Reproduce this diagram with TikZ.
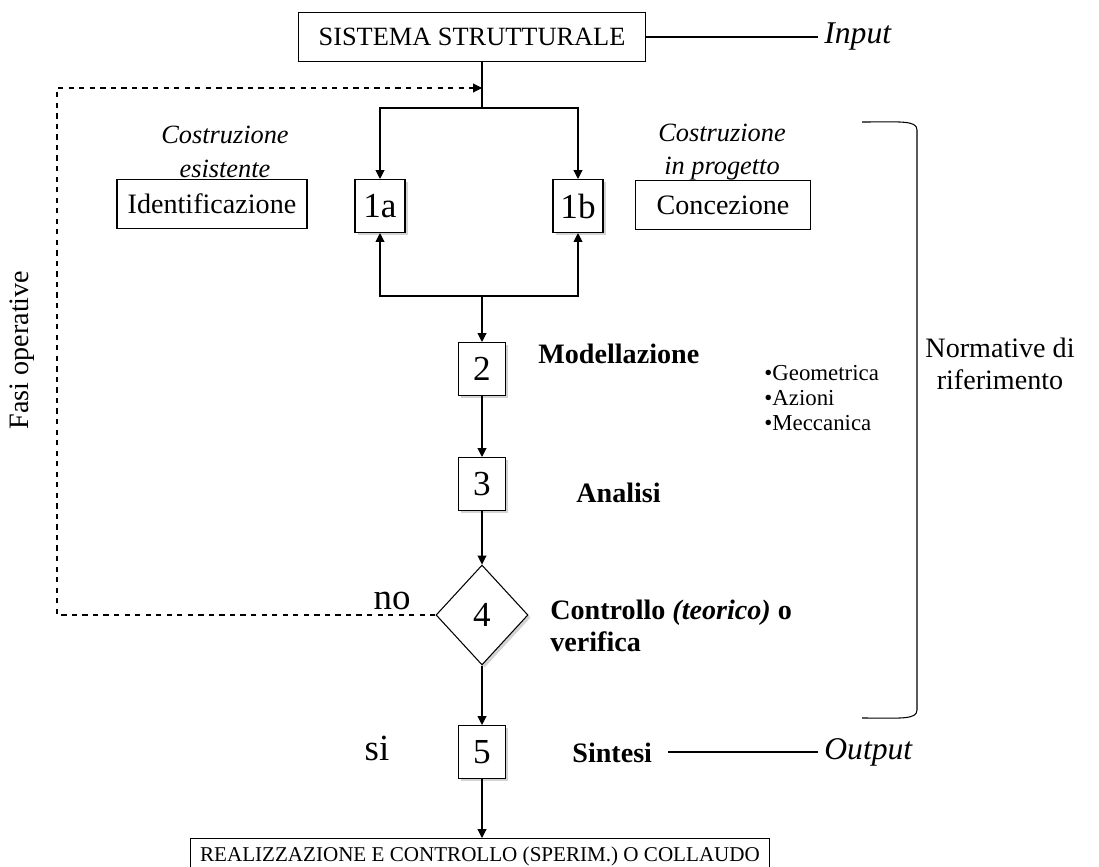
\documentclass[tikz,border=0pt]{standalone}
\usepackage{fontspec}
\setmainfont{Liberation Serif}
\usetikzlibrary{arrows.meta,shapes.geometric,shadows}

\begin{document}
\begin{tikzpicture}[x=0.02cm,y=-0.02cm,line width=0.6pt,
    >={Triangle[length=5pt,width=5pt]},
    every node/.style={font=\fontsize{16}{18}\selectfont},
    box/.style={draw,inner sep=0pt,minimum height=0.98cm},
    numbox/.style={draw,fill=white,inner sep=0pt,minimum width=0.94cm,minimum height=1.06cm,
      font=\fontsize{20}{22}\selectfont,
      drop shadow={opacity=0.35,shadow xshift=1.5pt,shadow yshift=-1.5pt}},
    lab/.style={anchor=west,font=\fontsize{16}{18}\selectfont\bfseries},
    side/.style={anchor=west,font=\fontsize{18}{21}\selectfont\itshape},
    note/.style={align=center,font=\fontsize{15}{19}\selectfont\itshape}]
  \useasboundingbox (0,0) rectangle (1099,866);

  \node[box,minimum width=6.96cm,font=\fontsize{15}{17}\selectfont] (sys) at (472,37) {SISTEMA STRUTTURALE};
  \node[side] (inp) at (818,37) {Input};
  \draw (sys.east) -- (inp.west);

  \node[box,minimum width=3.8cm] (ident) at (212,204) {Identificazione};
  \node[box,minimum width=3.5cm] (conc) at (723,205) {Concezione};
  \node[numbox,minimum width=1.0cm] (n1a) at (380,206) {1a};
  \node[numbox,minimum width=1.0cm] (n1b) at (578,206) {1b};
  \node[note] (esist) at (225,152) {Costruzione\\esistente};
  \node[note] (prog) at (722,152) {Costruzione\\in progetto};

  \coordinate (split) at (482,108);
  \coordinate (join) at (482,296);
  \draw (sys.south -| split) -- (split);
  \draw[->] (split) -| (n1a.north);
  \draw[->] (split) -| (n1b.north);
  \draw[->] (join) -| (n1a.south);
  \draw[->] (join) -| (n1b.south);

  \node[numbox] (n2) at (482,369) {2};
  \node[numbox] (n3) at (482,484) {3};
  \node[draw,fill=white,shape=diamond,inner sep=0pt,minimum width=1.84cm,minimum height=2cm,
    font=\fontsize{20}{22}\selectfont,
    drop shadow={opacity=0.35,shadow xshift=1.5pt,shadow yshift=-1.5pt}] (n4) at (482,615) {4};
  \node[numbox] (n5) at (482,752) {5};
  \node[draw,minimum width=11.6cm,inner ysep=5pt,anchor=north,font=\fontsize{12}{14}\selectfont] (real) at (480,838)
    {REALIZZAZIONE E CONTROLLO (SPERIM.) O COLLAUDO};

  \draw[->] (join) -- (n2);
  \draw[->] (n2) -- (n3);
  \draw[->] (n3) -- (n4);
  \draw[->] (n4) -- (n5);
  \draw[->] (n5) -- (real.north -| n5);

  \node[lab] (model) at (532,354) {Modellazione};
  \node[anchor=west,font=\fontsize{13}{15}\selectfont,align=left] (tipi) at (758,398)
    {\textbullet Geometrica\\[-1pt]\textbullet Azioni\\[-1pt]\textbullet Meccanica};
  \node[lab] (anal) at (570,493) {Analisi};
  \node[lab,align=left] (contr) at (544,626) {Controllo \textit{(teorico)} o\\verifica};
  \node[lab] (sint) at (566,753) {Sintesi};
  \node[side] (outp) at (818,752) {Output};
  \coordinate (o1) at (668,752);
  \draw (o1) -- (outp.west);

  \node[font=\fontsize{21}{24}\selectfont] (no) at (392,601) {no};
  \node[font=\fontsize{21}{24}\selectfont] (si) at (377,748) {si};

  \draw[dashed,->] (n4.west) -- (57,615) |- (split |- 0,88);

  \draw (862,122) .. controls (900,122) and (917,120) .. (917,130) -- (917,710)
    .. controls (917,720) and (900,718) .. (862,718);
  \node[align=center] (norm) at (1000,364) {Normative di\\riferimento};
  \node[rotate=90] (fasi) at (22,350) {Fasi operative};
\end{tikzpicture}
\end{document}
